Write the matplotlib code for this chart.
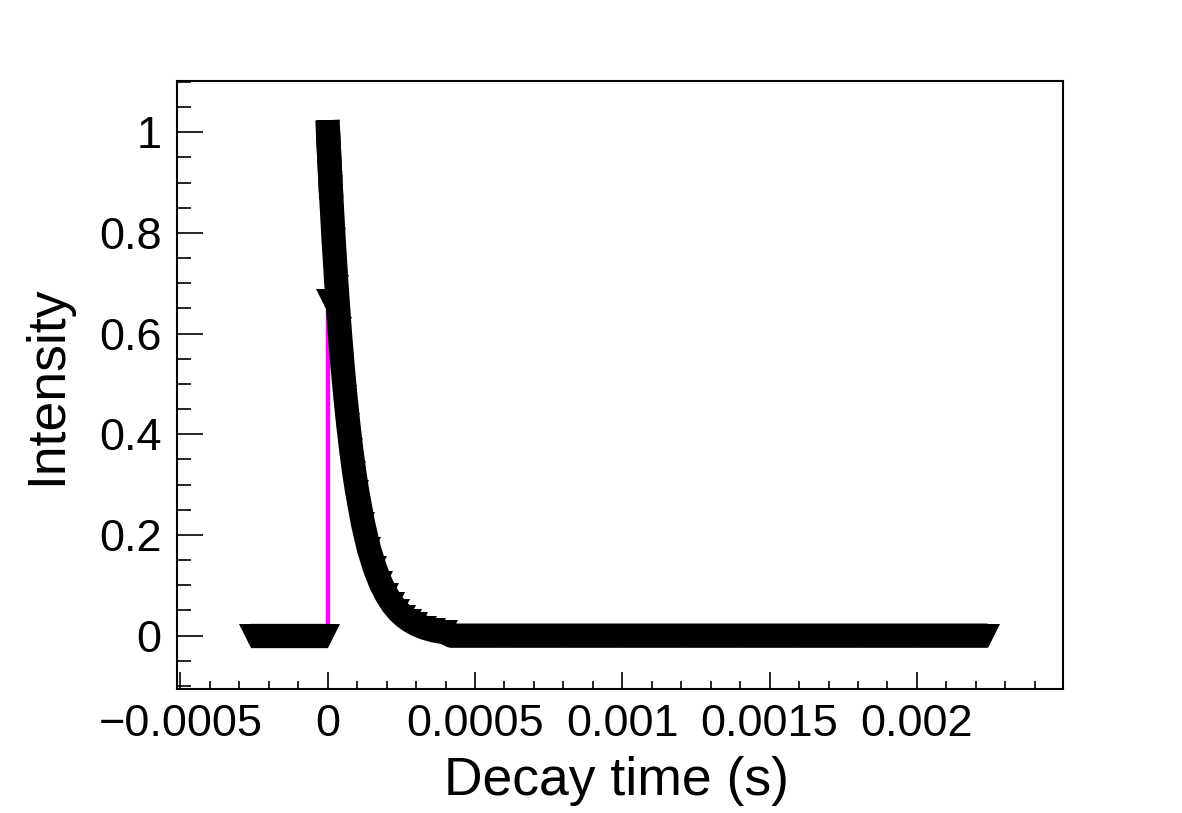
import matplotlib
matplotlib.use('Agg')
import matplotlib.pyplot as plt
from matplotlib.ticker import MultipleLocator, FuncFormatter

plt.rcParams['font.family'] = ['Liberation Sans', 'DejaVu Sans']

# pre-trigger baseline (s, intensity)
pre_t = [-0.00026, -0.0002, -0.00015, -0.0001, -0.00005, 0.0]
pre_y = [0, 0, 0, 0, 0, 0]

# first sample at the trigger
first_t = [0.0]
first_y = [0.665]

# decay curve
decay_t = [0.000001, 0.00001, 0.00002, 0.00003, 0.00004, 0.00005, 0.00006,
           0.00007, 0.00008, 0.00009, 0.0001, 0.00012, 0.00014, 0.00016,
           0.00018, 0.0002, 0.00022, 0.00024, 0.00026, 0.00028, 0.0003,
           0.00033, 0.00036, 0.0004,
           0.00042, 0.0006, 0.0008, 0.001, 0.0012, 0.0014, 0.0016, 0.0018,
           0.002, 0.00224]
decay_y = [1.0, 0.892, 0.786, 0.693, 0.61, 0.538, 0.474,
           0.418, 0.368, 0.324, 0.286, 0.222, 0.172, 0.134,
           0.104, 0.081, 0.0625, 0.0485, 0.0377, 0.0293, 0.0227,
           0.0155, 0.0106, 0.0064,
           0, 0, 0, 0, 0, 0, 0, 0,
           0, 0]

# excitation pulse
pulse_t = [0.0, 0.0]
pulse_y = [0.0, 0.78]

fig = plt.figure(figsize=(11.82, 8.13), dpi=100)
ax = fig.add_axes([0.1497, 0.1525, 0.7496, 0.7479])

ax.plot(pulse_t, pulse_y, color='#ff00ff', lw=3.2, zorder=1)

# markers are heavily overlapping, a thick line fills the band between them
ms = 17.5
for t, y in [(pre_t, pre_y), (decay_t, decay_y)]:
    ax.plot(t, y, color='black', lw=ms, solid_capstyle='butt',
            solid_joinstyle='round', zorder=2)
    ax.plot(t, y, ls='none', marker='v', ms=ms, color='black', mew=0, zorder=3)
# flat top of the stacked markers at the peak
ax.plot(decay_t[:2], decay_y[:2], color='black', lw=ms,
        solid_capstyle='projecting', zorder=2)
ax.plot(first_t, first_y, ls='none', marker='v', ms=ms, color='black', mew=0, zorder=3)

ax.set_xlim(-0.000512, 0.002496)
ax.set_ylim(-0.106, 1.102)

def fmt(v, pos):
    s = '%g' % round(v, 10)
    if s == '-0':
        s = '0'
    return s.replace('-', '\u2212')

ax.xaxis.set_major_locator(MultipleLocator(0.0005))
ax.xaxis.set_minor_locator(MultipleLocator(0.0001))
ax.yaxis.set_major_locator(MultipleLocator(0.2))
ax.yaxis.set_minor_locator(MultipleLocator(0.05))
ax.xaxis.set_major_formatter(FuncFormatter(fmt))
ax.yaxis.set_major_formatter(FuncFormatter(fmt))

ax.tick_params(which='both', direction='in', top=False, right=False,
               width=1.2, labelsize=32.5, colors='black')
ax.xaxis.set_tick_params(which='major', length=12.5, pad=11)
ax.xaxis.set_tick_params(which='minor', length=6)
ax.yaxis.set_tick_params(which='major', length=19, pad=11)
ax.yaxis.set_tick_params(which='minor', length=10)

for sp in ax.spines.values():
    sp.set_linewidth(1.5)

fig.text(617 / 1182, 1 - 781 / 813, 'Decay time (s)', fontsize=38.5,
         ha='center', va='center')
fig.text(47 / 1182, 1 - 385 / 813, 'Intensity', fontsize=38.5,
         rotation=90, ha='center', va='center')

fig.savefig('out.png', dpi=100)
